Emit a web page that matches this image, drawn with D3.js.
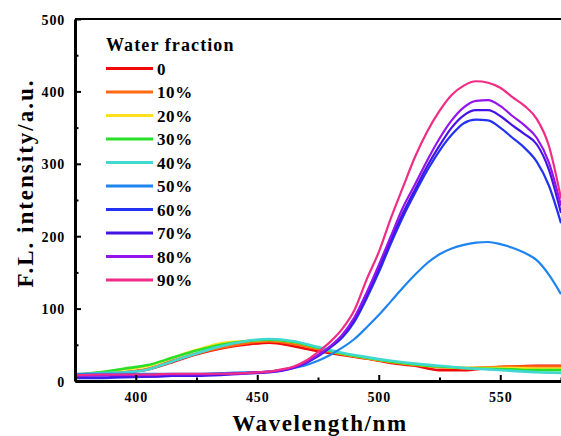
<!DOCTYPE html>
<html>
<head>
<meta charset="utf-8">
<script src="https://cdn.jsdelivr.net/npm/d3@7"></script>
<style>
  body { margin: 0; background: #fff; }
</style>
</head>
<body>
<div id="chart"></div>
<script>
// water fractions (legend) and line colours
const fractions = ['0', '10%', '20%', '30%', '40%', '50%', '60%', '70%', '80%', '90%']
const colors = ['#f00a0a', '#ff6a10', '#ffe020', '#28e028', '#40d8d0', '#1e84f0', '#2232f0', '#4414e6', '#9414ee', '#f02c84']

// low-emission spectra (0-40%), sampled every 10 nm
const wlLow = [375, 385, 395, 405, 415, 425, 435, 445, 455, 465, 475, 485, 495, 505, 515, 525, 535, 545, 555, 565, 575]
const f0  = [9, 10, 12, 16, 26, 37, 45, 50, 53, 48, 41, 36, 31, 25, 21, 15, 15, 18, 20, 21, 21]
const f10 = [9, 10, 12, 17, 28, 38, 46, 52, 55, 51, 44, 37, 31, 26, 22, 19, 18, 19, 20, 20, 20]
const f20 = [9, 12, 16, 21, 32, 43, 52, 55, 57, 54, 46, 38, 32, 27, 23, 20, 18, 18, 18, 17, 17]
const f30 = [8, 12, 17, 22, 32, 42, 50, 55, 57, 54, 46, 38, 32, 27, 23, 20, 18, 17, 16, 15, 15]
const f40 = [9, 11, 12, 16, 27, 38, 48, 55, 58, 55, 47, 39, 33, 28, 24, 21, 18, 16, 14, 12, 11]

// aggregated spectra (50-90%)
const wlHigh = [375, 385, 395, 405, 415, 425, 435, 445, 450, 455, 460, 465, 470, 475, 480, 485, 490, 495, 500,
  505, 510, 515, 520, 525, 530, 535, 540, 545, 550, 555, 560, 565, 570, 575]
const f50 = [10, 10, 10, 10, 10, 10, 11, 12, 12, 13, 15, 18, 22, 28, 36, 46, 58, 74, 91,
  110, 129, 147, 163, 175, 183, 188, 191, 192, 189, 184, 177, 167, 147, 120]
const f60 = [4, 4, 5, 6, 7, 8, 9, 11, 12, 13, 15, 19, 25, 34, 46, 60, 82, 114, 150,
  190, 227, 260, 291, 318, 340, 356, 361, 360, 350, 336, 322, 303, 270, 218]
const f70 = [5, 5, 6, 6, 7, 7, 8, 10, 11, 12, 14, 18, 25, 35, 47, 62, 85, 118, 155,
  195, 232, 265, 297, 325, 350, 367, 374, 374, 366, 353, 341, 327, 292, 232]
const f80 = [7, 8, 8, 8, 9, 9, 10, 11, 12, 13, 15, 19, 26, 36, 48, 64, 88, 122, 160,
  200, 240, 272, 305, 335, 360, 378, 387, 388, 380, 366, 353, 336, 302, 242]
const f90 = [8, 9, 9, 9, 10, 10, 10, 11, 12, 13, 16, 20, 28, 40, 54, 72, 98, 140, 178,
  225, 268, 310, 345, 373, 395, 408, 414, 412, 405, 392, 380, 362, 325, 252]

const xTicks = [400, 450, 500, 550]
const xMinor = [425, 475, 525, 575]
const yTicks = [0, 100, 200, 300, 400, 500]
const yMinor = [50, 150, 250, 350, 450]

const W = 561, H = 436
const M = { left: 75, top: 19, bottom: 381 }
const FONT = 'Liberation Serif'

const series = [
  { wl: wlLow, v: f0 }, { wl: wlLow, v: f10 }, { wl: wlLow, v: f20 }, { wl: wlLow, v: f30 }, { wl: wlLow, v: f40 },
  { wl: wlHigh, v: f50 }, { wl: wlHigh, v: f60 }, { wl: wlHigh, v: f70 }, { wl: wlHigh, v: f80 }, { wl: wlHigh, v: f90 },
].map((d, i) => ({ ...d, name: fractions[i], color: colors[i] }))

// x axis runs past the right edge of the picture (clipped)
const x = d3.scaleLinear().domain([375, 600]).range([M.left, M.left + 225 * 2.43])
const y = d3.scaleLinear().domain([0, 500]).range([M.bottom, M.top])

const svg = d3.select('#chart').append('svg')
  .attr('width', W)
  .attr('height', H)

svg.append('defs').append('clipPath').attr('id', 'plot')
  .append('rect')
  .attr('x', M.left).attr('y', M.top)
  .attr('width', W - M.left).attr('height', M.bottom - M.top)

const line = d3.line()
  .x(d => x(d[0]))
  .y(d => y(d[1]))
  .curve(d3.curveMonotoneX)

svg.append('g')
  .attr('clip-path', 'url(#plot)')
  .selectAll('path')
  .data(series)
  .join('path')
    .attr('fill', 'none')
    .attr('stroke', d => d.color)
    .attr('stroke-width', (d, i) => i < 5 ? 2.6 : 2.2)
    .attr('stroke-linejoin', 'round')
    .attr('d', d => line(d.wl.map((w, i) => [w, d.v[i]])))

// axes -- ticks point inward
svg.append('g')
  .attr('transform', `translate(0,${M.bottom})`)
  .call(d3.axisBottom(x).tickValues(xTicks).tickSize(-6).tickSizeOuter(0).tickPadding(11))
svg.append('g')
  .attr('transform', `translate(0,${M.bottom})`)
  .call(d3.axisBottom(x).tickValues(xMinor).tickSize(-3.5).tickSizeOuter(0).tickFormat(''))
  .call(g => g.select('.domain').remove())

const gy = svg.append('g')
  .attr('transform', `translate(${M.left},0)`)
  .call(d3.axisLeft(y).tickValues(yTicks).tickSize(-6).tickSizeOuter(0).tickPadding(10))
svg.append('g')
  .attr('transform', `translate(${M.left},0)`)
  .call(d3.axisLeft(y).tickValues(yMinor).tickSize(-3.5).tickSizeOuter(0).tickFormat(''))
  .call(g => g.select('.domain').remove())

svg.selectAll('.tick line').attr('stroke', '#000').attr('stroke-width', 2)
svg.selectAll('.domain').attr('stroke', '#000').attr('stroke-width', 3)
svg.selectAll('.tick text')
  .attr('fill', '#000')
  .attr('font-size', 14)
  .style('letter-spacing', '0.8px')
gy.selectAll('.tick text').attr('dy', '0.36em')

// top frame line
svg.append('line')
  .attr('x1', M.left).attr('x2', W)
  .attr('y1', M.top).attr('y2', M.top)
  .attr('stroke', '#000').attr('stroke-width', 2)

// axis titles
svg.append('text')
  .attr('x', 320).attr('y', 431)
  .attr('text-anchor', 'middle')
  .attr('font-size', 23)
  .style('letter-spacing', '1.6px')
  .text('Wavelength/nm')

svg.append('text')
  .attr('transform', 'translate(33,183) rotate(-90)')
  .attr('text-anchor', 'middle')
  .attr('font-size', 23)
  .style('letter-spacing', '2px')
  .text('F.L. intensity/a.u.')

// legend
const legend = svg.append('g')
legend.append('text')
  .attr('x', 106).attr('y', 50.5)
  .attr('font-size', 18)
  .style('letter-spacing', '1.1px')
  .text('Water fraction')

const rows = legend.selectAll('g.row')
  .data(series)
  .join('g')
    .attr('class', 'row')
    .attr('transform', (d, i) => `translate(0,${68.5 + i * 23.5})`)
rows.append('line')
  .attr('x1', 106).attr('x2', 153)
  .attr('stroke', d => d.color)
  .attr('stroke-width', 3)
rows.append('text')
  .attr('x', 157).attr('y', 6)
  .attr('font-size', 17)
  .style('letter-spacing', '0.6px')
  .text(d => d.name)

// every label in bold serif
svg.selectAll('text')
  .attr('font-family', FONT)
  .attr('font-weight', 'bold')
</script>
</body>
</html>
